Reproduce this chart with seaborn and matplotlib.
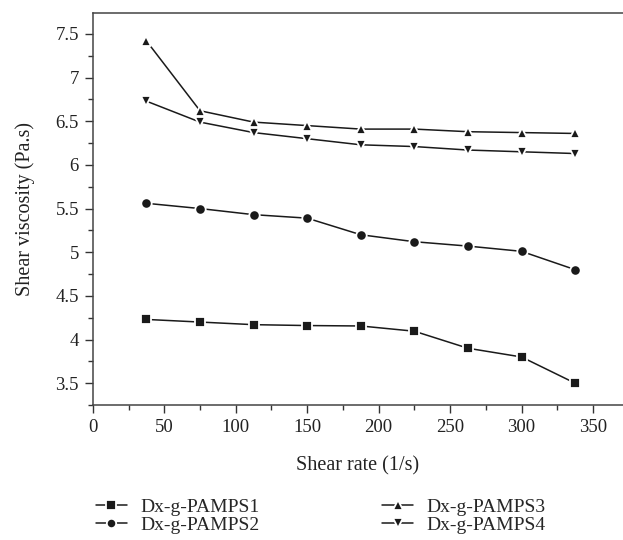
import numpy as np
import pandas as pd
import matplotlib
matplotlib.use("Agg")
import matplotlib.pyplot as plt
import seaborn as sns
from matplotlib.ticker import MultipleLocator

# data
shear_rate = [37.5, 75, 112.5, 150, 187.5, 225, 262.5, 300, 337.5]
pamps1 = [4.23, 4.20, 4.17, 4.16, 4.155, 4.095, 3.90, 3.80, 3.50]
pamps2 = [5.56, 5.50, 5.43, 5.39, 5.20, 5.12, 5.07, 5.01, 4.80]
pamps3 = [7.42, 6.62, 6.49, 6.45, 6.41, 6.41, 6.38, 6.37, 6.36]
pamps4 = [6.73, 6.49, 6.37, 6.30, 6.23, 6.21, 6.17, 6.15, 6.13]
names = ["Dx-g-PAMPS1", "Dx-g-PAMPS2", "Dx-g-PAMPS3", "Dx-g-PAMPS4"]
ytick_vals = [3.5, 4, 4.5, 5, 5.5, 6, 6.5, 7, 7.5]
ytick_text = ["3.5", "4", "4.5", "5", "5.5", "6", "6.5", "7", "7.5"]

frames = []
for name, vals in zip(names, [pamps1, pamps2, pamps3, pamps4]):
    frames.append(pd.DataFrame({"rate": shear_rate, "visc": vals, "sample": name}))
df = pd.concat(frames, ignore_index=True)

sns.set_theme(style="ticks")
plt.rcParams["font.family"] = ["Liberation Serif", "DejaVu Serif"]

fig = plt.figure(figsize=(6.23, 5.4), dpi=100)
ax = fig.add_axes([0.149, 0.25, 0.851, 0.726])

sns.lineplot(data=df, x="rate", y="visc", hue="sample", style="sample",
             markers=["s", "o", "^", "v"], dashes=False,
             palette=["#1a1a1a"] * 4, linewidth=1.1, markersize=7.5,
             markeredgecolor="white", markeredgewidth=1.3, ax=ax)

ax.set_xlim(0, 371)
ax.set_ylim(3.25, 7.74)
ax.xaxis.set_major_locator(MultipleLocator(50))
ax.xaxis.set_minor_locator(MultipleLocator(25))
ax.yaxis.set_minor_locator(MultipleLocator(0.25))
ax.set_yticks(ytick_vals)
ax.set_yticklabels(ytick_text)
ax.tick_params(which="major", direction="out", length=6, width=1, labelsize=13.5,
               colors="#333333", labelcolor="#222222", pad=4)
ax.tick_params(which="minor", direction="out", length=3.5, width=1, colors="#333333")

for side in ["left", "bottom", "top"]:
    ax.spines[side].set_color("#444444")
    ax.spines[side].set_linewidth(1.1)
ax.spines["right"].set_visible(False)

ax.set_xlabel("Shear rate (1/s)", fontsize=14.5, color="#222222", labelpad=15)
ax.set_ylabel("Shear viscosity (Pa.s)", fontsize=14.5, color="#222222", labelpad=15)

handles, labels = ax.get_legend_handles_labels()
ax.get_legend().remove()
fig.legend(handles, labels, ncol=2, loc="upper center", bbox_to_anchor=(0.515, 0.11),
           frameon=False, fontsize=14, handlelength=1.6, handletextpad=0.7,
           columnspacing=6.3, labelspacing=0.05, markerscale=0.9)

fig.savefig("out.png", dpi=100)
